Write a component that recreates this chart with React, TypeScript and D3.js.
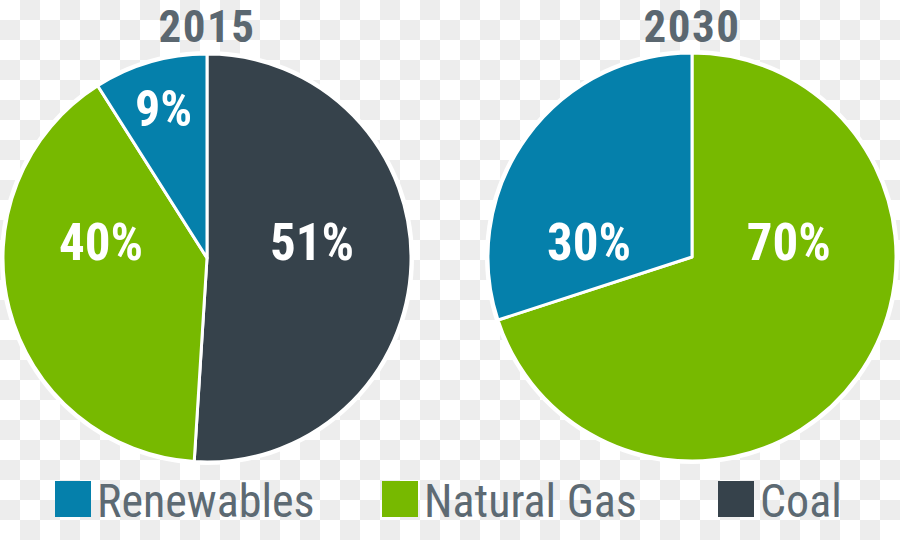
import React from "react";
import * as d3 from "d3";

// ---- data ----
const categories = ["Renewables", "Natural Gas", "Coal"];
const years = ["2015", "2030"];
const share2015 = [9, 40, 51];
const share2030 = [30, 70, 0];
// clockwise drawing order from 12 o'clock
const order2015 = ["Coal", "Natural Gas", "Renewables"];
const order2030 = ["Natural Gas", "Renewables", "Coal"];

// ---- style / layout ----
const W = 900;
const H = 540;
const colors: Record<string, string> = {
  Renewables: "#0580ab",
  "Natural Gas": "#77b900",
  Coal: "#36424b",
};
const TITLE_COLOR = "#5b6770";
const LEGEND_TEXT = "#5d6a73";
const FONT = "'Liberation Sans Narrow', 'Roboto Condensed', 'Arial Narrow', sans-serif";

const pies = [
  { year: years[0], values: share2015, order: order2015, cx: 207, cy: 258, r: 204,
    // label placement: angle (deg, clockwise from top) and radius fraction
    labels: { Coal: [91, 0.515], "Natural Gas": [269, 0.52], Renewables: [341.8, 0.68] } as Record<string, [number, number]> },
  { year: years[1], values: share2030, order: order2030, cx: 692, cy: 257, r: 204,
    labels: { "Natural Gas": [91.8, 0.475], Renewables: [268.3, 0.505] } as Record<string, [number, number]> },
];
const legendX = [55, 382, 718];

export default function App() {
  const pieGen = d3
    .pie<{ cat: string; v: number }>()
    .sort(null)
    .value((d) => d.v);

  return (
    <svg width={W} height={H} style={{ position: "absolute", left: 0, top: 0, display: "block" }}>
      <defs>
        <pattern id="checker" width={40} height={40} patternUnits="userSpaceOnUse">
          <rect width={40} height={40} fill="#ffffff" />
          <rect x={20} y={0} width={20} height={20} fill="#ededed" />
          <rect x={0} y={20} width={20} height={20} fill="#ededed" />
        </pattern>
      </defs>
      <rect width={W} height={H} fill="url(#checker)" />

      {pies.map((p) => {
        const data = p.order
          .map((cat) => ({ cat, v: p.values[categories.indexOf(cat)] }))
          .filter((d) => d.v > 0);
        const arcs = pieGen(data);
        const arc = d3.arc<d3.PieArcDatum<{ cat: string; v: number }>>().innerRadius(0).outerRadius(p.r);
        return (
          <g key={p.year}>
            <text
              x={p.cx}
              y={42}
              textAnchor="middle"
              fontFamily={FONT}
              fontWeight="bold"
              fontSize={45}
              letterSpacing={1.5}
              fill={TITLE_COLOR}
            >
              {p.year}
            </text>
            <g transform={`translate(${p.cx},${p.cy})`}>
              <circle r={p.r + 3} fill="#ffffff" />
              {arcs.map((a) => (
                <path
                  key={a.data.cat}
                  d={arc(a) || ""}
                  fill={colors[a.data.cat]}
                  stroke="#ffffff"
                  strokeWidth={3}
                  strokeLinejoin="round"
                />
              ))}
              {arcs.map((a) => {
                const lp = p.labels[a.data.cat];
                const ang = (lp[0] * Math.PI) / 180;
                const rr = lp[1] * p.r;
                return (
                  <text
                    key={"l" + a.data.cat}
                    x={rr * Math.sin(ang)}
                    y={-rr * Math.cos(ang)}
                    textAnchor="middle"
                    fontFamily={FONT}
                    fontWeight="bold"
                    fontSize={a.data.v < 15 ? 50 : 51}
                    fill="#ffffff"
                  >
                    {`${a.data.v}%`}
                  </text>
                );
              })}
            </g>
          </g>
        );
      })}

      {categories.map((c, i) => (
        <g key={c} transform={`translate(${legendX[i]},481)`}>
          <rect width={36} height={36} fill={colors[c]} />
          <text x={42} y={36} fontFamily={FONT} fontSize={46} fill={LEGEND_TEXT}>
            {c}
          </text>
        </g>
      ))}
    </svg>
  );
}
